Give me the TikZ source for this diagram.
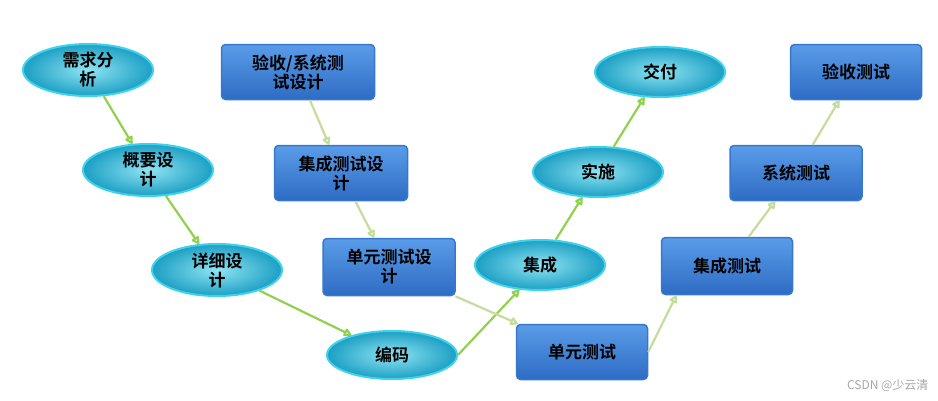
\documentclass[tikz,border=0pt]{standalone}
\usepackage{fontspec}
\newfontfamily\cjk{Noto Sans CJK SC}[BoldFont={Noto Sans CJK SC Bold}]
\usetikzlibrary{shapes.geometric,arrows.meta}
\definecolor{ellin}{HTML}{8FE4F2}
\definecolor{ellout}{HTML}{1C9FC4}
\definecolor{ellbd}{HTML}{3ED3EC}
\definecolor{recin}{HTML}{5A9CE8}
\definecolor{recout}{HTML}{2E6CC4}
\definecolor{recbd}{HTML}{3578D0}
\definecolor{garr}{HTML}{92D050}
\definecolor{larr}{HTML}{C4DC9C}
\tikzset{
 el/.style={ellipse,draw=ellbd,line width=2pt,inner color=ellin,outer color=ellout,minimum width=130pt,minimum height=52pt,inner sep=0pt,align=center,font=\cjk\bfseries\fontsize{17}{19}\selectfont},
 rb/.style={rectangle,rounded corners=4pt,draw=recbd,line width=1.5pt,top color=recin,bottom color=recout,minimum width=132pt,minimum height=55pt,inner sep=0pt,align=center,font=\cjk\bfseries\fontsize{17}{19}\selectfont},
 ga/.style={draw=garr,line width=2.2pt,-{Stealth[length=9pt,width=9pt,inset=0pt,open,round]}},
 la/.style={draw=larr,line width=2.2pt,-{Stealth[length=9pt,width=9pt,inset=0pt,open,round]}}
}
\begin{document}
\begin{tikzpicture}[x=1pt,y=-1pt]
\useasboundingbox (0,0) rectangle (938,400);
\node[el] (a) at (88,70) {需求分\\析};
\node[el] (b) at (148,170) {概要设\\计};
\node[el] (c) at (217,270) {详细设\\计};
\node[el,minimum height=48pt] (d) at (392,355) {编码};
\node[el,minimum height=50pt] (e) at (540,265) {集成};
\node[el,minimum height=50pt] (f) at (598,172) {实施};
\node[el,minimum height=50pt] (g) at (660,72) {交付};
\node[rb,minimum width=153pt] (r1) at (298,72) {验收/系统测\\试设计};
\node[rb,minimum width=133pt] (r2) at (341,173) {集成测试设\\计};
\node[rb,minimum height=57pt] (r3) at (389,267) {单元测试设\\计};
\node[rb,minimum width=131pt] (r4) at (582,352) {单元测试};
\node[rb,minimum width=131pt,minimum height=57pt] (r5) at (727,266) {集成测试};
\node[rb] (r6) at (796,173) {系统测试};
\node[rb,minimum width=131pt] (r7) at (856,72) {验收测试};
\draw[ga] (a) -- (b);
\draw[ga] (b) -- (c);
\draw[ga] (c) -- (d);
\draw[ga] (d.east) -- (e.-130);
\draw[ga] (e) -- (f);
\draw[ga] (f) -- (g);
\draw[la] (r1) -- (r2);
\draw[la] (r2) -- (r3);
\draw[la] (r3) -- (r4);
\draw[la] (r4.east) -- (r5.-150);
\draw[la] (r5) -- (r6);
\draw[la] (r6) -- (r7);
\node[text=gray!70,font=\cjk\fontsize{12}{14}\selectfont,anchor=east] (wm) at (932,385) {CSDN @少云清};
\end{tikzpicture}
\end{document}
